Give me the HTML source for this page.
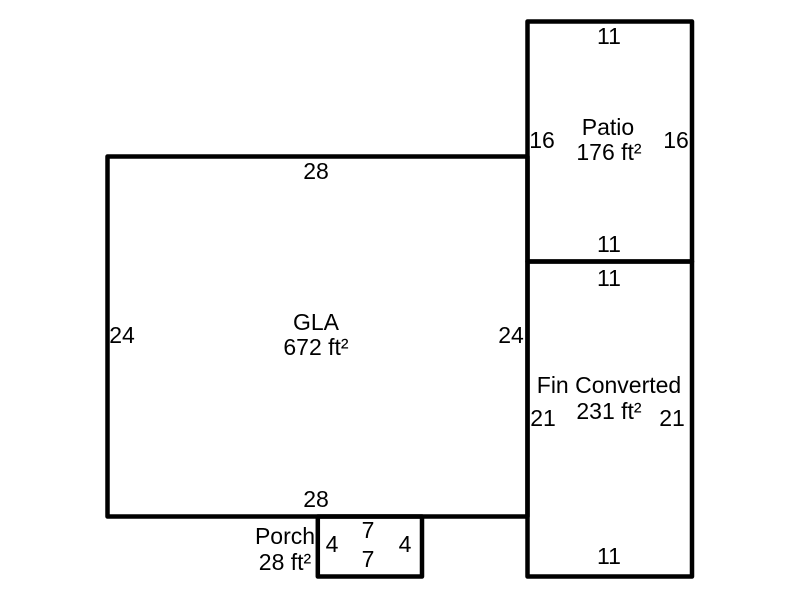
<!DOCTYPE html>
<html><head><meta charset="utf-8"><style>
html,body{margin:0;padding:0;background:#fff;width:800px;height:600px;overflow:hidden}
svg{display:block}
text{font-family:"Liberation Sans",sans-serif;font-size:23px;fill:#000;text-anchor:middle}
</style></head><body>
<svg width="800" height="600" viewBox="0 0 800 600">
<g fill="none" stroke="#000" stroke-width="4.500" stroke-linejoin="round" stroke-linecap="round">
<rect x="107.500" y="156.500" width="420" height="360"/>
<rect x="527.500" y="21.500" width="164.500" height="240"/>
<rect x="527.500" y="261.500" width="164.500" height="315"/>
<rect x="317.800" y="516.500" width="104.200" height="60"/>
</g>
<text x="609" y="44">11</text>
<text x="542" y="148">16</text>
<text x="676" y="148">16</text>
<text x="608" y="135">Patio</text>
<text x="609" y="160">176 ft²</text>
<text x="609" y="252">11</text>
<text x="609" y="286">11</text>
<text x="316" y="179">28</text>
<text x="122" y="343">24</text>
<text x="511" y="343">24</text>
<text x="316" y="330">GLA</text>
<text x="316" y="355">672 ft²</text>
<text x="609" y="393">Fin Converted</text>
<text x="609" y="419">231 ft²</text>
<text x="543" y="426">21</text>
<text x="672" y="426">21</text>
<text x="609" y="564">11</text>
<text x="316" y="507">28</text>
<text x="285" y="544">Porch</text>
<text x="285" y="570">28 ft²</text>
<text x="332" y="552">4</text>
<text x="405" y="552">4</text>
<text x="368" y="538">7</text>
<text x="368" y="567">7</text>
</svg>
</body></html>
